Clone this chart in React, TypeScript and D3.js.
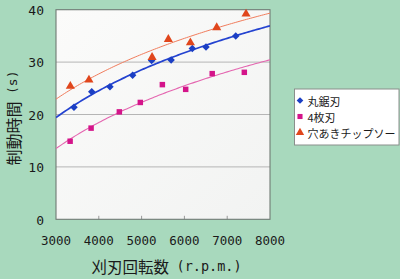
import React from "react";
import * as d3 from "d3";

const W = 400;
const H = 279;

const xTicks = [3000, 4000, 5000, 6000, 7000, 8000];
const yTicks = [0, 10, 20, 30, 40];

const seriesNames = ["丸鋸刃", "4枚刃", "穴あきチップソー"];

const marukoX = [3420, 3835, 4260, 4790, 5235, 5690, 6185, 6505, 7200];
const marukoY = [21.4, 24.35, 25.3, 27.5, 30.3, 30.4, 32.6, 32.9, 35.0];

const yonmaiX = [3330, 3820, 4480, 4970, 5485, 6030, 6650, 7400];
const yonmaiY = [14.9, 17.4, 20.5, 22.3, 25.7, 24.8, 27.8, 28.05];

const anaakiX = [3335, 3770, 5245, 5625, 6140, 6755, 7440];
const anaakiY = [25.4, 26.6, 30.9, 34.35, 33.7, 36.6, 39.2];

const colors = {
  bg: "#a8d9bd",
  blue: "#1b3fc4",
  blueLine: "#2443d0",
  pink: "#d4148a",
  pinkLine: "#e466b0",
  orange: "#e0461c",
  orangeLine: "#f07c5c",
};

const M = { left: 56, right: 270, top: 9.7, bottom: 219.3 };

function logFit(xs: number[], ys: number[]) {
  const lx = xs.map((v) => Math.log(v));
  const mx = d3.mean(lx) as number;
  const my = d3.mean(ys) as number;
  let sxy = 0;
  let sxx = 0;
  lx.forEach((v, i) => {
    sxy += (v - mx) * (ys[i] - my);
    sxx += (v - mx) * (v - mx);
  });
  const a = sxy / sxx;
  const b = my - a * mx;
  return (x: number) => a * Math.log(x) + b;
}

export default function App() {
  const x = d3.scaleLinear().domain([3000, 8000]).range([M.left, M.right]);
  const y = d3.scaleLinear().domain([0, 40]).range([M.bottom, M.top]);

  const series = [
    { name: seriesNames[0], xs: marukoX, ys: marukoY, color: colors.blue, line: colors.blueLine, lw: 1.7, shape: "diamond" },
    { name: seriesNames[1], xs: yonmaiX, ys: yonmaiY, color: colors.pink, line: colors.pinkLine, lw: 1.1, shape: "square" },
    { name: seriesNames[2], xs: anaakiX, ys: anaakiY, color: colors.orange, line: colors.orangeLine, lw: 1.0, shape: "triangle" },
  ];

  const sym = (shape: string, size: number) => {
    const t = shape === "diamond" ? d3.symbolDiamond2 : shape === "square" ? d3.symbolSquare : d3.symbolTriangle;
    return d3.symbol().type(t).size(size)() as string;
  };

  const sampleXs = d3.range(3000, 8001, 50);

  return (
    <svg width={W} height={H} style={{ position: "absolute", left: 0, top: 0 }}>
      <defs>
        <clipPath id="plotclip">
          <rect x={M.left} y={M.top} width={M.right - M.left} height={M.bottom - M.top} />
        </clipPath>
        <linearGradient id="plotbg" x1="0" y1="0" x2="1" y2="1">
          <stop offset="0" stopColor="#fbfbfa" />
          <stop offset="1" stopColor="#f2f3f2" />
        </linearGradient>
      </defs>
      <rect x={0} y={0} width={W} height={H} fill={colors.bg} />
      <rect x={M.left} y={M.top} width={M.right - M.left} height={M.bottom - M.top} fill="url(#plotbg)" />
      {yTicks.slice(1, -1).map((t) => (
        <line key={t} x1={M.left} x2={M.right} y1={y(t)} y2={y(t)} stroke="#b5b5b5" strokeWidth={1} />
      ))}
      {xTicks.slice(1, -1).map((t) => (
        <line key={t} x1={x(t)} x2={x(t)} y1={M.bottom} y2={M.bottom - 3.5} stroke="#999" strokeWidth={1} />
      ))}
      <rect x={M.left} y={M.top} width={M.right - M.left} height={M.bottom - M.top} fill="none" stroke="#6f7a74" strokeWidth={1.1} />

      <g clipPath="url(#plotclip)">
        {series.map((s) => {
          const f = logFit(s.xs, s.ys);
          const path = d3
            .line<number>()
            .x((v) => x(v))
            .y((v) => y(f(v)))(sampleXs) as string;
          return <path key={s.name} d={path} fill="none" stroke={s.line} strokeWidth={s.lw} />;
        })}
      </g>
      {series.map((s) =>
        s.xs.map((xv, i) => (
          <path
            key={s.name + i}
            d={sym(s.shape, s.shape === "diamond" ? 36 : s.shape === "square" ? 30 : 36)}
            transform={`translate(${x(xv)},${y(s.ys[i])})`}
            fill={s.color}
          />
        ))
      )}

      {xTicks.map((t) => (
        <text key={t} x={x(t)} y={240} textAnchor="middle" dominantBaseline="central" fontFamily="DejaVu Sans Mono" fontSize={12.5} fill="#1a1a1a">
          {t}
        </text>
      ))}
      {yTicks.map((t) => (
        <text key={t} x={44} y={y(t) + 0.8} textAnchor="end" dominantBaseline="central" fontFamily="DejaVu Sans Mono" fontSize={13} fill="#1a1a1a">
          {t}
        </text>
      ))}

      <text x={91.5} y={265.5} dominantBaseline="central" fontFamily="Noto Sans CJK JP" fontSize={15.5} fill="#1a1a1a">
        刈刃回転数
      </text>
      <text x={176.5} y={265.5} dominantBaseline="central" fontFamily="DejaVu Sans Mono" fontSize={13.5} fill="#1a1a1a">
        (r.p.m.)
      </text>

      <g transform="translate(12.5,0) rotate(-90)">
        <text x={-165.5} y={0} dominantBaseline="central" fontFamily="Noto Sans CJK JP" fontSize={16} fill="#1a1a1a">
          制動時間
        </text>
        <text x={-94} y={0} dominantBaseline="central" fontFamily="DejaVu Sans Mono" fontSize={13} fill="#1a1a1a">
          (s)
        </text>
      </g>

      <rect x={294.5} y={89} width={104.5} height={56} fill="#ffffff" stroke="#8a8f8c" strokeWidth={1} />
      {series.map((s, i) => {
        const cy = 100.5 + i * 16;
        return (
          <g key={s.name}>
            <path d={sym(s.shape, s.shape === "diamond" ? 28 : s.shape === "square" ? 26 : 30)} transform={`translate(300,${cy})`} fill={s.color} />
            <text x={307.5} y={cy} dominantBaseline="central" fontFamily="Noto Sans CJK JP" fontSize={11} fill="#1a1a1a">
              {s.name}
            </text>
          </g>
        );
      })}
    </svg>
  );
}
